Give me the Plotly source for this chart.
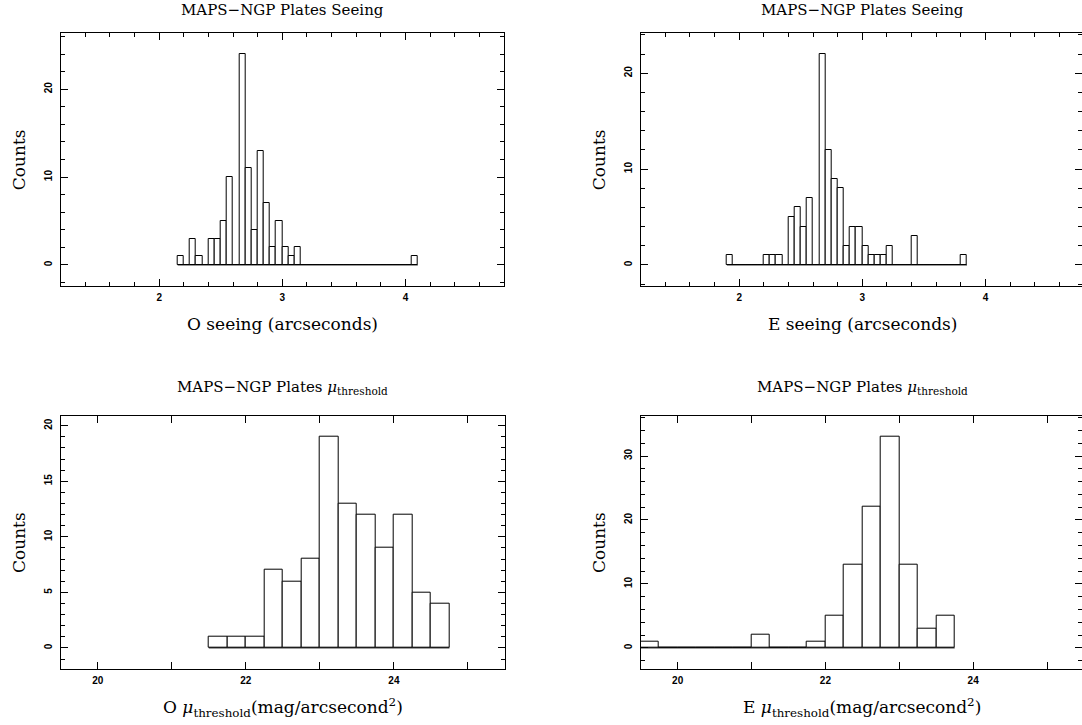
import plotly.graph_objects as go

# ---------------- data ----------------
# O seeing histogram (arcsec), bin width 0.05 starting at 2.15
o_seeing_start = 2.15
o_seeing_width = 0.05
o_seeing_counts = [1, 0, 3, 1, 0, 3, 3, 5, 10, 0, 24, 11, 4, 13, 7, 2, 5, 2, 1, 2,
                   0, 0, 0, 0, 0, 0, 0, 0, 0, 0, 0, 0, 0, 0, 0, 0, 0, 0, 1]

# E seeing histogram (arcsec), bin width 0.05 starting at 1.90
e_seeing_start = 1.90
e_seeing_width = 0.05
e_seeing_counts = [1, 0, 0, 0, 0, 0, 1, 1, 1, 0, 5, 6, 4, 7, 0, 22, 12, 9, 8, 2,
                   4, 4, 2, 1, 1, 1, 2, 0, 0, 0, 3, 0, 0, 0, 0, 0, 0, 0, 1]

# O mu_threshold histogram (mag/arcsec^2), bin width 0.25 starting at 21.5
o_mu_start = 21.5
o_mu_width = 0.25
o_mu_counts = [1, 1, 1, 7, 6, 8, 19, 13, 12, 9, 12, 5, 4]

# E mu_threshold histogram, bin width 0.25 starting at 19.5
e_mu_start = 19.5
e_mu_width = 0.25
e_mu_counts = [1, 0, 0, 0, 0, 0, 2, 0, 0, 1, 5, 13, 22, 33, 13, 3, 5]

seeing_xrange = [1.2, 4.8]
mu_xrange = [19.5, 25.5]
mu_tickvals = [20, 21, 22, 23, 24, 25]
mu_ticktext = ["20", "", "22", "", "24", ""]

title_seeing = "MAPS\u2212NGP Plates Seeing"
title_mu = "MAPS\u2212NGP Plates <i>\u03bc</i><sub>threshold</sub>"
xtitles = ["O seeing (arcseconds)", "E seeing (arcseconds)",
           "O <i>\u03bc</i><sub>threshold</sub>(mag/arcsecond<sup>2</sup>)",
           "E <i>\u03bc</i><sub>threshold</sub>(mag/arcsecond<sup>2</sup>)"]
ytitle = "Counts"

# ---------------- layout geometry ----------------
OFF = 0                      # page body margin removed by post_script
W, H = 1082 - OFF, 725 - OFF
SERIF = "DejaVu Serif"
TICKFONT = dict(family="Liberation Sans", size=10, color="black", weight="bold")

# page pixel positions of each frame (left, right, top, bottom)
panels = [
    dict(start=o_seeing_start, width=o_seeing_width, counts=o_seeing_counts, xr=seeing_xrange,
         l=60.7, r=504, t=33, b=286, ydt=10, ymin=2, kind="seeing"),
    dict(start=e_seeing_start, width=e_seeing_width, counts=e_seeing_counts, xr=seeing_xrange,
         l=640.7, r=1084, t=33, b=286, ydt=10, ymin=2, kind="seeing"),
    dict(start=o_mu_start, width=o_mu_width, counts=o_mu_counts, xr=mu_xrange,
         l=60.7, r=505, t=415.7, b=669, ydt=5, ymin=1, kind="mu"),
    dict(start=e_mu_start, width=e_mu_width, counts=e_mu_counts, xr=mu_xrange,
         l=640.7, r=1084, t=415.7, b=669, ydt=10, ymin=2, kind="mu"),
]

fig = go.Figure()
annotations = []

for i, p in enumerate(panels):
    n = i + 1
    xa = "x" if n == 1 else f"x{n}"
    ya = "y" if n == 1 else f"y{n}"
    centers = [p["start"] + (k + 0.5) * p["width"] for k in range(len(p["counts"]))]
    fig.add_trace(go.Bar(
        x=centers, y=p["counts"], width=p["width"],
        marker=dict(color="white", line=dict(color="black", width=1)),
        xaxis=xa, yaxis=ya, showlegend=False, hoverinfo="x+y",
    ))
    first_edge = p["start"]
    last_edge = p["start"] + len(p["counts"]) * p["width"]
    fig.add_trace(go.Scatter(
        x=[first_edge, last_edge], y=[0, 0], mode="lines",
        line=dict(color="black", width=1), xaxis=xa, yaxis=ya,
        showlegend=False, hoverinfo="skip",
    ))

    ymax = max(p["counts"])
    yr = [-0.1 * ymax, 1.1 * ymax]

    l = p["l"] - OFF
    r_true = p["r"] - OFF
    r = min(r_true, W - 0.5)
    xr = [p["xr"][0], p["xr"][0] + (r - l) / (r_true - l) * (p["xr"][1] - p["xr"][0])]
    xdom = [l / W, r / W]
    ydom = [1 - (p["b"] - OFF) / H, 1 - (p["t"] - OFF) / H]

    xkw = dict(domain=xdom, range=xr, anchor=ya, showline=True, linecolor="black",
               linewidth=1, mirror="allticks", ticks="inside", ticklen=7, tickwidth=1,
               tickcolor="black", showgrid=False, zeroline=False, tickfont=TICKFONT,
               ticklabelstandoff=2)
    if p["kind"] == "seeing":
        xkw.update(tick0=2, dtick=1,
                   minor=dict(dtick=0.2, tick0=2, ticks="inside", ticklen=4,
                              tickcolor="black", tickwidth=1, showgrid=False))
    else:
        xkw.update(tickmode="array", tickvals=mu_tickvals, ticktext=mu_ticktext)
    ykw = dict(domain=ydom, range=yr, anchor=xa, showline=True, linecolor="black",
               linewidth=1, mirror="allticks", ticks="inside", ticklen=7, tickwidth=1,
               tickcolor="black", showgrid=False, zeroline=False, tickfont=TICKFONT,
               tick0=0, dtick=p["ydt"], tickangle=-90, ticklabelstandoff=4,
               minor=dict(dtick=p["ymin"], tick0=0, ticks="inside", ticklen=4,
                          tickcolor="black", tickwidth=1, showgrid=False))
    fig.update_layout(**{("xaxis" if n == 1 else f"xaxis{n}"): xkw,
                         ("yaxis" if n == 1 else f"yaxis{n}"): ykw})

    cx = (p["l"] + p["r"]) / 2 - OFF
    # panel title
    ty = (10 if p["kind"] == "seeing" else 387) - OFF
    annotations.append(dict(text=title_seeing if p["kind"] == "seeing" else title_mu,
                            x=cx / W, y=1 - ty / H, xref="paper", yref="paper",
                            xanchor="center", yanchor="middle", showarrow=False,
                            font=dict(family=SERIF, size=15, color="black")))
    # x title
    xty = (324 if p["kind"] == "seeing" else 707) - OFF
    annotations.append(dict(text=xtitles[i], x=cx / W, y=1 - xty / H, xref="paper",
                            yref="paper", xanchor="center", yanchor="middle",
                            showarrow=False,
                            font=dict(family=SERIF, size=17, color="black")))
    # y title
    annotations.append(dict(text=ytitle, x=(l - 41) / W,
                            y=1 - ((p["t"] + p["b"]) / 2 - OFF) / H, xref="paper",
                            yref="paper", xanchor="center", yanchor="middle",
                            textangle=-90, showarrow=False,
                            font=dict(family=SERIF, size=17, color="black")))

fig.update_layout(
    width=W, height=H, margin=dict(l=0, r=0, t=0, b=0),
    paper_bgcolor="white", plot_bgcolor="white", bargap=0,
    annotations=annotations, showlegend=False,
)

fig.write_html("out.html",
               config={"displayModeBar": False},
               post_script="document.body.style.margin='0px';document.body.style.overflow='hidden';")
